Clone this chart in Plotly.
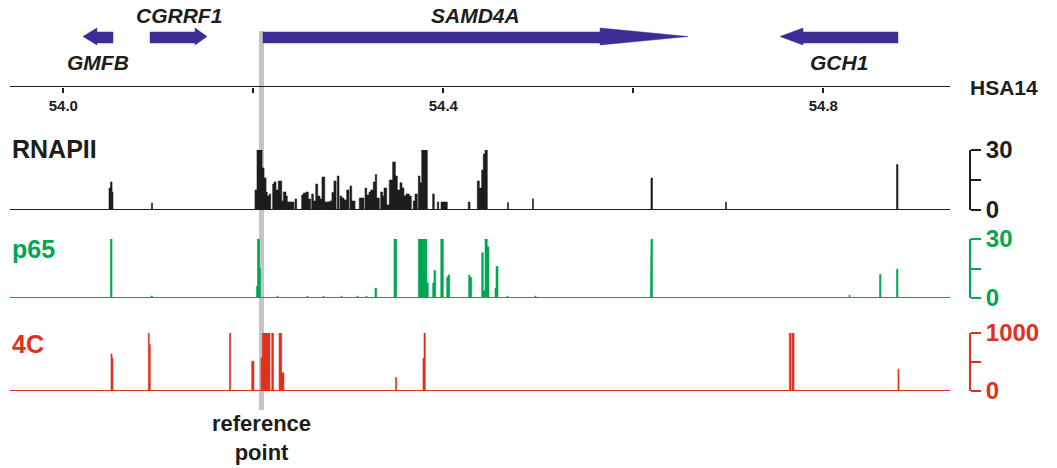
import plotly.graph_objects as go

# ------------------------------------------------------------------ data
gene_names = ["GMFB", "CGRRF1", "SAMD4A", "GCH1"]
gene_start = [54.0207, 54.0913, 54.2102, 54.7544]
gene_end = [54.0523, 54.1513, 54.6576, 54.8786]
gene_strand = ["-", "+", "+", "-"]

reference_point = 54.2086
chrom_label = "HSA14"
axis_ticks = [54.0, 54.2, 54.4, 54.6, 54.8]
axis_tick_labels = ["54.0", "", "54.4", "", "54.8"]

rnapii_start = [54.0481, 54.0497, 54.0513, 54.0928, 54.2018, 54.2039, 54.2092, 54.2113, 54.2134, 54.2155,
                54.2168, 54.2204, 54.2218, 54.2239, 54.2263, 54.2299, 54.2316, 54.2344, 54.2368, 54.2439,
                54.2509, 54.2534, 54.2562, 54.2589, 54.2615, 54.2639, 54.2660, 54.2684, 54.2709, 54.2731,
                54.2758, 54.2815, 54.2836, 54.2853, 54.2884, 54.2913, 54.2941, 54.2965, 54.2989, 54.3018,
                54.3046, 54.3116, 54.3176, 54.3200, 54.3221, 54.3246, 54.3271, 54.3292, 54.3305, 54.3341,
                54.3362, 54.3386, 54.3411, 54.3439, 54.3474, 54.3499, 54.3526, 54.3544, 54.3573, 54.3589,
                54.3615, 54.3642, 54.3684, 54.3709, 54.3737, 54.3755, 54.3773, 54.3888, 54.3937, 54.3976,
                54.4000, 54.4263, 54.4358, 54.4379, 54.4404, 54.4421, 54.4439, 54.4676, 54.4939, 54.6186,
                54.6971, 54.8771]
rnapii_end = [54.0497, 54.0513, 54.0523, 54.0939, 54.2039, 54.2092, 54.2113, 54.2134, 54.2147, 54.2168,
              54.2183, 54.2218, 54.2239, 54.2263, 54.2299, 54.2316, 54.2344, 54.2358, 54.2428, 54.2457,
              54.2526, 54.2555, 54.2579, 54.2604, 54.2632, 54.2657, 54.2678, 54.2702, 54.2723, 54.2752,
              54.2807, 54.2828, 54.2849, 54.2871, 54.2902, 54.2931, 54.2955, 54.2983, 54.3007, 54.3036,
              54.3071, 54.3165, 54.3194, 54.3218, 54.3236, 54.3263, 54.3284, 54.3299, 54.3326, 54.3362,
              54.3376, 54.3404, 54.3432, 54.3467, 54.3495, 54.3516, 54.3544, 54.3565, 54.3586, 54.3607,
              54.3642, 54.3663, 54.3702, 54.3726, 54.3755, 54.3773, 54.3832, 54.3905, 54.3952, 54.3994,
              54.4042, 54.4281, 54.4379, 54.4404, 54.4421, 54.4439, 54.4463, 54.4686, 54.4949, 54.6202,
              54.6981, 54.8786]
rnapii_value = [11, 14, 9, 3.5, 10, 30, 21, 16, 9, 7,
                8, 13, 14, 10, 14.5, 4.5, 9, 7, 4, 5.5,
                7.5, 8.5, 9, 5.5, 8, 4.5, 13, 7, 5.5, 16.5,
                4, 4.5, 8.7, 14.5, 17, 7, 6, 5, 10, 12,
                4.5, 6, 11, 7.5, 9, 10, 14, 17.7, 6, 9,
                7, 11, 2.5, 15, 24, 17, 10, 13.6, 11, 7,
                8, 7, 4.5, 8, 17, 13.6, 30, 8, 4, 4,
                4, 4, 14.5, 11, 20, 28, 30, 3.7, 5.6, 16,
                3.9, 22.7]

p65_start = [54.0497, 54.0923, 54.2034, 54.2044, 54.2065, 54.2249, 54.2565, 54.2734, 54.2923, 54.3092,
             54.3186, 54.3281, 54.3481, 54.3737, 54.3828, 54.3888, 54.3902, 54.3973, 54.4036, 54.4049,
             54.4267, 54.4281, 54.4404, 54.4421, 54.4439, 54.4463, 54.4544, 54.4555, 54.4671, 54.4965,
             54.6179, 54.6186, 54.8271, 54.8592, 54.8771]
p65_end = [54.0513, 54.0939, 54.2044, 54.2065, 54.2076, 54.2260, 54.2576, 54.2745, 54.2934, 54.3103,
           54.3197, 54.3299, 54.3509, 54.3828, 54.3842, 54.3902, 54.3920, 54.4000, 54.4049, 54.4067,
           54.4281, 54.4299, 54.4421, 54.4439, 54.4463, 54.4481, 54.4555, 54.4576, 54.4681, 54.4976,
           54.6186, 54.6202, 54.8281, 54.8607, 54.8786]
p65_value = [30, 1, 6, 30, 15, 1, 1, 1, 1, 1,
             1, 5, 30, 30, 7.6, 7.6, 14, 30, 10.5, 11.7,
             11.7, 10.5, 23, 3.7, 30, 26, 5, 16, 1, 1,
             10, 30, 1.5, 12, 14.6]

c4_start = [54.0502, 54.0513, 54.0895, 54.0905, 54.1749, 54.1983, 54.2081, 54.2095, 54.2131, 54.2194,
            54.2271, 54.2309, 54.3497, 54.3786, 54.3797, 54.7642, 54.7671, 54.8786]
c4_end = [54.0513, 54.0523, 54.0905, 54.0916, 54.1762, 54.2007, 54.2095, 54.2123, 54.2176, 54.2213,
          54.2299, 54.2323, 54.3509, 54.3797, 54.3811, 54.7660, 54.7692, 54.8797]
c4_value = [640, 564, 1000, 800, 1000, 514, 571, 1000, 1000, 1000,
            1000, 314, 233, 564, 1000, 1000, 1000, 376]

track_names = ["RNAPII", "p65", "4C"]
track_max = [30, 30, 1000]

# ------------------------------------------------------------------ layout helpers / styles
W, H = 1057, 468
ML, MR = 10, 87
PX_PER_MB = 950.0
TICK0_PX = 63.3
X_LEFT = 54.0 - (TICK0_PX - ML) / PX_PER_MB
X_RIGHT = 54.0 + (W - MR - TICK0_PX) / PX_PER_MB
X_LINE_END = 54.0 + (950 - TICK0_PX) / PX_PER_MB
MIN_GAP_MB = 1.0 / PX_PER_MB  # gaps narrower than ~1 px are not drawn


def px_x(px):
    return (px - ML) / (W - ML - MR)


def px_y(py):
    return 1 - py / H


def step_path(starts, ends, values):
    """Outline of a bedGraph-like signal: each segment is a flat-topped block."""
    xs, ys = [], []
    n = len(starts)
    for k in range(n):
        s, e, v = starts[k], ends[k], values[k]
        touching_prev = k > 0 and s - ends[k - 1] < MIN_GAP_MB
        touching_next = k < n - 1 and starts[k + 1] - e < MIN_GAP_MB
        left = ends[k - 1] if touching_prev else s
        if not touching_prev:
            xs.append(left)
            ys.append(0)
        xs += [left, e]
        ys += [v, v]
        if not touching_next:
            xs.append(e)
            ys.append(0)
    return xs, ys


FONT = "Liberation Sans, Arial, Helvetica, sans-serif"
INK = "#1d1d1b"
GENE_BLUE = "#3b2c96"
track_colors = [INK, "#00a651", "#e1301e"]
track_px = [(150, 210), (239, 298), (333, 391)]  # (top, baseline) in px
track_label_py = [148.5, 248.7, 344]
gene_head_mb = [0.0147, 0.0126, 0.0926, 0.0242]
gene_label_side = ["below", "above", "above", "below"]

fig = go.Figure()

# genes (arrows) on the gene axis, y in pixel-like units (0 top .. 87 bottom)
BODY_T, BODY_B, HEAD_T, HEAD_B, MID = 32, 43, 28, 45, 36.5
for name, s, e, st, hl, side in zip(gene_names, gene_start, gene_end, gene_strand,
                                     gene_head_mb, gene_label_side):
    if st == "+":
        tail, tip, base = s, e, e - hl
    else:
        tail, tip, base = e, s, s + hl
    xs = [tail, base, base, tip, base, base, tail, tail]
    ys = [BODY_T, BODY_T, HEAD_T, MID, HEAD_B, BODY_B, BODY_B, BODY_T]
    fig.add_trace(go.Scatter(x=xs, y=ys, mode="lines", fill="toself",
                             fillcolor=GENE_BLUE, line=dict(color=GENE_BLUE, width=0.5),
                             xaxis="x", yaxis="y", hoverinfo="skip"))
    fig.add_annotation(x=(s + e) / 2, y=15.5 if side == "above" else 62.5,
                       xref="x", yref="y", text=name, showarrow=False,
                       font=dict(family=FONT, size=21, color=INK, weight="bold", style="italic"),
                       xanchor="center", yanchor="middle")

# signal tracks
signals = [(rnapii_start, rnapii_end, rnapii_value),
           (p65_start, p65_end, p65_value),
           (c4_start, c4_end, c4_value)]
for i, (st, en, val) in enumerate(signals):
    ya = "y%d" % (i + 2)
    xs, ys = step_path(st, en, val)
    fig.add_trace(go.Scatter(x=xs, y=ys, mode="lines", fill="tozeroy",
                             fillcolor=track_colors[i],
                             line=dict(color=track_colors[i], width=0.6),
                             xaxis="x", yaxis=ya, hoverinfo="skip"))
    fig.add_shape(type="line", xref="x", yref=ya, x0=X_LEFT, x1=X_LINE_END, y0=0, y1=0,
                  line=dict(color=track_colors[i], width=2))
    fig.add_annotation(x=0, y=px_y(track_label_py[i]),
                       xref="paper", yref="paper", text=track_names[i], showarrow=False,
                       xanchor="left", yanchor="middle",
                       font=dict(family=FONT, size=25, color=track_colors[i], weight="bold"))

# genomic axis line
fig.add_shape(type="line", xref="x", yref="y", x0=X_LEFT, x1=X_LINE_END, y0=87, y1=87,
              line=dict(color=INK, width=2))
fig.add_annotation(x=px_x(968), y=px_y(87), xref="paper", yref="paper", text=chrom_label,
                   showarrow=False, xanchor="left", yanchor="middle",
                   font=dict(family=FONT, size=21, color=INK, weight="bold"))

# reference point line and label
fig.add_shape(type="line", xref="x", yref="paper", x0=reference_point, x1=reference_point,
              y0=px_y(410), y1=px_y(31), layer="below", line=dict(color="#c4c4c4", width=5))
fig.add_annotation(x=reference_point, y=px_y(437.5), xref="x", yref="paper",
                   text="reference<br>point", showarrow=False, xanchor="center",
                   yanchor="middle", align="center",
                   font=dict(family=FONT, size=22, color=INK, weight="bold"))

layout_axes = {}
for i in range(3):
    top, base = track_px[i]
    mx = track_max[i]
    layout_axes["yaxis%d" % (i + 2)] = dict(
        domain=[px_y(base), px_y(top)], range=[0, mx], anchor="free", position=1,
        side="right", showline=True, linecolor=track_colors[i], linewidth=2,
        ticks="outside", ticklen=10, tickwidth=2, tickcolor=track_colors[i],
        tickvals=[0, mx / 2, mx], ticktext=["0", "", str(mx)],
        tickfont=dict(family=FONT, size=24, color=track_colors[i], weight="bold"),
        showgrid=False, zeroline=False, fixedrange=True, automargin=False)

fig.update_layout(
    template="none",
    width=W, height=H, autosize=False,
    margin=dict(l=ML, r=MR, t=0, b=0, pad=0, autoexpand=False),
    paper_bgcolor="white", plot_bgcolor="white", showlegend=False,
    xaxis=dict(range=[X_LEFT, X_RIGHT], anchor="y", side="bottom", showline=False,
               showgrid=False, zeroline=False, ticks="outside", ticklen=5, tickwidth=2,
               tickcolor=INK, tickvals=axis_ticks, ticktext=axis_tick_labels,
               tickfont=dict(family=FONT, size=15, color=INK, weight="bold"),
               automargin=False, fixedrange=True),
    yaxis=dict(domain=[px_y(87), 1], range=[87, 0], visible=False, fixedrange=True,
               automargin=False),
    **layout_axes,
)

fig.write_html("out.html",
               config={"displayModeBar": False, "staticPlot": True},
               post_script="document.body.style.margin='0px';"
                           "document.body.style.overflow='hidden';")
